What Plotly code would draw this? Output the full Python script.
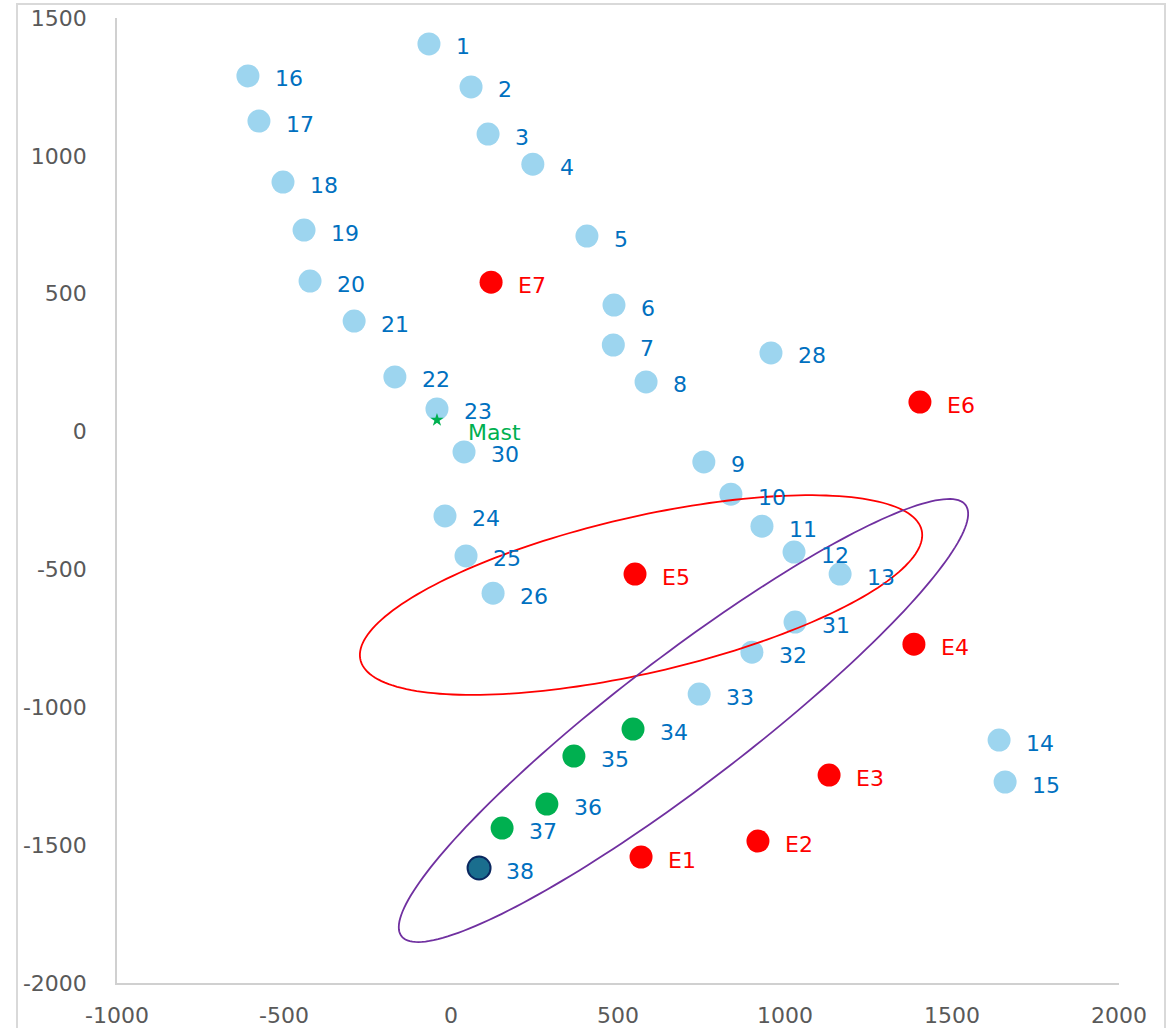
import numpy as np
import plotly.graph_objects as go

# ---- data ----
blue_labels = ["1","2","3","4","5","6","7","8","9","10","11","12","13","14","15",
               "16","17","18","19","20","21","22","23","24","25","26","28","30",
               "31","32","33"]
blue_x = [-66, 60, 111, 245, 407, 488, 486, 584, 757, 838, 931, 1027, 1165, 1641, 1659,
          -608, -575, -503, -440, -422, -290, -168, -42, -18, 45, 126, 958, 39,
          1030, 901, 743]
blue_y = [1406, 1250, 1079, 970, 709, 459, 314, 180, -110, -227, -343, -437, -517, -1119, -1271,
          1290, 1126, 905, 731, 546, 401, 198, 82, -306, -451, -586, 285, -74,
          -691, -800, -952]

green_labels = ["34", "35", "36", "37"]
green_x = [545, 368, 287, 153]
green_y = [-1079, -1177, -1351, -1438]

dark_labels = ["38"]
dark_x = [84]
dark_y = [-1583]

red_labels = ["E1", "E2", "E3", "E4", "E5", "E6", "E7"]
red_x = [569, 919, 1132, 1386, 551, 1404, 120]
red_y = [-1543, -1485, -1246, -771, -517, 107, 542]

mast_label = ["Mast"]
mast_x = [-42]
mast_y = [42]

x_range = [-1000, 2000]
y_range = [-2000, 1500]
x_ticks = [-1000, -500, 0, 500, 1000, 1500, 2000]
y_ticks = [-2000, -1500, -1000, -500, 0, 500, 1000, 1500]

# ellipses: data-space centre, screen-space semi-axes (px) and tilt (deg)
red_ell = dict(cx=569, cy=-593, a=288, b=78, ang=13)
purple_ell = dict(cx=696, cy=-1048, a=355, b=64, ang=37.4)

# ---- layout geometry ----
W, H = 1173, 1028
ml, mt = 117, 18
mr = W - 1119
mb = H - 983
pw, ph = W - ml - mr, H - mt - mb
sx = pw / (x_range[1] - x_range[0])
sy = ph / (y_range[1] - y_range[0])

LBL_BLUE = "#0070C0"
FONT = "DejaVu Sans"

fig = go.Figure()

def add_pts(xs, ys, color, line=None):
    fig.add_trace(go.Scatter(
        x=xs, y=ys, mode="markers",
        marker=dict(size=23, color=color,
                    line=line if line else dict(width=0)),
        hoverinfo="skip", showlegend=False))

add_pts(blue_x, blue_y, "#9DD5EF")
add_pts(green_x, green_y, "#00B050")
add_pts(dark_x, dark_y, "#1A6E8E", dict(color="#0A2860", width=2))
add_pts(red_x, red_y, "#FF0000")
fig.add_trace(go.Scatter(x=mast_x, y=mast_y, mode="markers",
                         marker=dict(size=10, symbol="star", color="#00B050"),
                         hoverinfo="skip", showlegend=False))

def ellipse_path(e, n=200):
    t = np.linspace(0, 2 * np.pi, n)
    th = np.deg2rad(e["ang"])
    px = e["a"] * np.cos(t) * np.cos(th) - e["b"] * np.sin(t) * np.sin(th)
    py = e["a"] * np.cos(t) * np.sin(th) + e["b"] * np.sin(t) * np.cos(th)
    xs = e["cx"] + px / sx
    ys = e["cy"] + py / sy
    return "M " + " L ".join(f"{x:.2f},{y:.2f}" for x, y in zip(xs, ys)) + " Z"

fig.add_shape(type="path", path=ellipse_path(red_ell), xref="x", yref="y",
              line=dict(color="#FF0000", width=1.8))
fig.add_shape(type="path", path=ellipse_path(purple_ell), xref="x", yref="y",
              line=dict(color="#7030A0", width=1.8))

annots = []
def add_labels(labels, xs, ys, color, xshift=25, yshift=-3):
    for t, x, y in zip(labels, xs, ys):
        annots.append(dict(x=x, y=y, text=t, showarrow=False, xanchor="left",
                           yanchor="middle", xshift=xshift, yshift=yshift,
                           font=dict(family=FONT, size=22, color=color)))

add_labels(blue_labels, blue_x, blue_y, LBL_BLUE)
add_labels(green_labels, green_x, green_y, LBL_BLUE)
add_labels(dark_labels, dark_x, dark_y, LBL_BLUE)
add_labels(red_labels, red_x, red_y, "#FF0000")
add_labels(mast_label, mast_x, mast_y, "#00B050", xshift=29, yshift=-13)

# outer chart frame
fig.add_shape(type="rect", xref="paper", yref="paper",
              x0=(17 - ml) / pw, x1=(1165 - ml) / pw,
              y0=-0.2, y1=(983 - 4) / ph,
              line=dict(color="#D9D9D9", width=2), fillcolor="rgba(0,0,0,0)",
              layer="below")

tick_font = dict(family=FONT, size=22, color="#595959")
fig.update_layout(
    width=W, height=H,
    margin=dict(l=ml, r=mr, t=mt, b=mb, pad=0, autoexpand=False),
    paper_bgcolor="white", plot_bgcolor="white",
    annotations=annots,
    xaxis=dict(range=x_range, tickvals=x_ticks, ticktext=[str(v) for v in x_ticks],
               showgrid=False, zeroline=False, automargin=False,
               showline=True, linecolor="#D0D0D0", linewidth=1.5,
               ticks="", ticklabelstandoff=12, tickfont=tick_font,
               ticklabeloverflow="allow"),
    yaxis=dict(range=y_range, tickvals=y_ticks, ticktext=[str(v) for v in y_ticks],
               showgrid=False, zeroline=False, automargin=False,
               showline=True, linecolor="#D0D0D0", linewidth=1.5,
               ticks="", ticklabelstandoff=24, tickfont=tick_font,
               ticklabeloverflow="allow"),
)

fig.write_html("out.html",
               config={"displayModeBar": False},
               post_script="document.body.style.margin='0';"
                           "document.body.style.overflow='hidden';")
